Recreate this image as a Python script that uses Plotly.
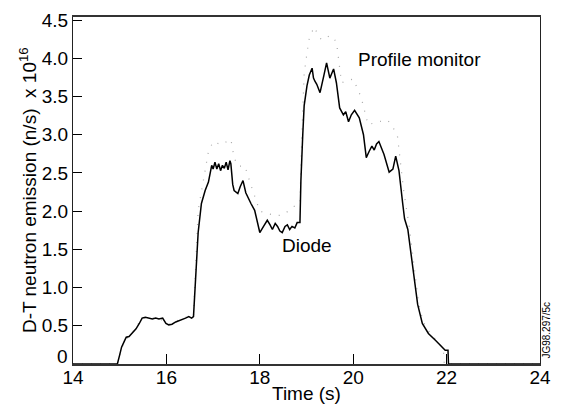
import plotly.graph_objects as go

# Diode (solid) trace
diode_t = [14.0, 14.95, 15.0, 15.04, 15.1, 15.14, 15.2, 15.27, 15.35, 15.42, 15.48, 15.55, 15.63, 15.7,
           15.77, 15.84, 15.92, 15.99, 16.05, 16.12, 16.2, 16.3, 16.41, 16.48, 16.54, 16.58, 16.62, 16.68,
           16.75, 16.83, 16.9, 16.94, 16.97, 17.0, 17.04, 17.08, 17.12, 17.16, 17.2, 17.24, 17.28, 17.32,
           17.36, 17.38, 17.42, 17.45, 17.5, 17.53, 17.58, 17.64, 17.7, 17.76, 17.81, 17.89, 17.95, 18.0,
           18.08, 18.16, 18.22, 18.27, 18.33, 18.38, 18.43, 18.48, 18.54, 18.59, 18.64, 18.69, 18.75, 18.8,
           18.86, 18.88, 18.92, 18.95, 19.01, 19.06, 19.12, 19.15, 19.18, 19.22, 19.29, 19.33, 19.37, 19.43,
           19.47, 19.5, 19.54, 19.58, 19.64, 19.71, 19.79, 19.84, 19.9, 19.96, 20.03, 20.13, 20.22, 20.28,
           20.34, 20.4, 20.45, 20.5, 20.55, 20.66, 20.77, 20.85, 20.91, 20.98, 21.06, 21.1, 21.17, 21.23,
           21.29, 21.38, 21.48, 21.61, 21.76, 21.9, 21.97, 22.03, 22.04, 24.0]
diode_y = [0, 0, 0.12, 0.22, 0.3, 0.35, 0.36, 0.41, 0.46, 0.53, 0.6, 0.61, 0.6, 0.59,
           0.6, 0.59, 0.6, 0.53, 0.51, 0.52, 0.55, 0.57, 0.6, 0.62, 0.6, 0.62, 1.1, 1.72,
           2.1, 2.27, 2.38, 2.53, 2.6, 2.55, 2.64, 2.55, 2.62, 2.53, 2.6, 2.56, 2.64, 2.54,
           2.66, 2.62, 2.35, 2.27, 2.24, 2.23, 2.32, 2.4, 2.24, 2.15, 2.1, 2.01, 1.85, 1.72,
           1.8, 1.88, 1.82, 1.76, 1.84, 1.8, 1.74, 1.72, 1.8, 1.82, 1.76, 1.8, 1.78, 1.85,
           1.85, 2.4, 3.0, 3.38, 3.64, 3.78, 3.87, 3.74, 3.7, 3.66, 3.55, 3.68, 3.77, 3.94,
           3.82, 3.74, 3.8, 3.86, 3.68, 3.35, 3.26, 3.3, 3.17, 3.26, 3.32, 3.22, 3.0, 2.7,
           2.78, 2.85, 2.8, 2.88, 2.91, 2.74, 2.51, 2.55, 2.72, 2.53, 2.1, 1.9, 1.76, 1.46,
           1.21, 0.78, 0.53, 0.4, 0.31, 0.22, 0.18, 0.18, 0, 0]

# Profile monitor (dotted) trace
prof_t = [14.0, 14.95, 15.0, 15.1, 15.27, 15.48, 15.84, 16.05, 16.41, 16.58, 16.68, 16.79, 16.9, 17.0,
          17.17, 17.38, 17.45, 17.53, 17.68, 17.8, 18.0, 18.33, 18.5, 18.73, 18.86, 18.9, 18.95, 19.05,
          19.16, 19.29, 19.37, 19.5, 19.64, 19.75, 20.0, 20.17, 20.32, 20.53, 20.74, 20.91, 20.95, 21.08,
          21.12, 21.2, 21.3, 21.4, 21.5, 21.65, 21.8, 21.93, 21.95, 24.0]
prof_y = [0, 0, 0.12, 0.3, 0.41, 0.6, 0.6, 0.52, 0.61, 0.63, 2.01, 2.42, 2.78, 2.91,
          2.87, 2.94, 2.7, 2.59, 2.59, 2.36, 2.0, 1.94, 1.95, 2.06, 2.1, 3.0, 3.8, 4.24,
          4.41, 4.26, 4.24, 4.3, 4.22, 3.68, 3.73, 3.49, 3.13, 3.17, 3.19, 3.04, 2.97, 2.27,
          2.1, 1.8, 1.3, 0.8, 0.55, 0.4, 0.3, 0.2, 0, 0]

x_ticks = [14, 16, 18, 20, 22, 24]
y_ticks = [0.5, 1.0, 1.5, 2.0, 2.5, 3.0, 3.5, 4.0, 4.5]
y_ticktext = ["0.5", "1.0", "1.5", "2.0", "2.5", "3.0", "3.5", "4.0", "4.5"]
y_zero_label = "0"

FONT = "Liberation Sans, Arial, sans-serif"

fig = go.Figure()
fig.add_trace(go.Scatter(x=prof_t, y=prof_y, mode="lines",
                         line=dict(color="#a8a8a8", width=1.2, dash="1px,8px"),
                         showlegend=False, hoverinfo="skip"))
fig.add_trace(go.Scatter(x=diode_t, y=diode_y, mode="lines",
                         line=dict(color="black", width=1.5),
                         showlegend=False))

PLOT_H = 354.0
PLOT_W = 473.0

fig.update_layout(
    width=561, height=407,
    margin=dict(l=73, r=15, t=10, b=43),
    paper_bgcolor="white", plot_bgcolor="white",
    font=dict(family=FONT, size=19, color="black"),
    xaxis=dict(range=[14, 24], tickvals=x_ticks, ticks="inside", ticklen=10, tickwidth=1,
               tickcolor="black", showgrid=False, zeroline=False, showline=True,
               linecolor="#333", linewidth=1.5, mirror=True, ticklabelstandoff=-5,
               tickfont=dict(size=19)),
    yaxis=dict(range=[0, 4.54], tickvals=y_ticks, ticktext=y_ticktext, ticks="inside",
               ticklen=9, tickwidth=1, tickcolor="black", showgrid=False, zeroline=False,
               showline=True, linecolor="#222", linewidth=1.2, mirror=True,
               tickfont=dict(size=19)),
    annotations=[
        dict(text="Time (s)", x=0.5, xref="paper", y=-(394 - 364) / PLOT_H, yref="paper",
             showarrow=False, xanchor="center", yanchor="middle", font=dict(size=19)),
        dict(text="D-T neutron emission (n/s)  x 10<sup>16</sup>", textangle=-90,
             x=(27 - 73) / PLOT_W, xref="paper", y=0.5, yref="paper", showarrow=False,
             xanchor="center", yanchor="middle", font=dict(size=19)),
        dict(text="Profile monitor", x=20.07, xref="x", y=(364 - 53) / 78, yref="y",
             showarrow=False, xanchor="left", yanchor="middle", font=dict(size=19)),
        dict(text="Diode", x=19.0, xref="x", y=(364 - 243) / 78, yref="y",
             showarrow=False, xanchor="center", yanchor="middle", font=dict(size=19)),
        dict(text="JG98.297/5c", textangle=-90, x=(553 - 73) / PLOT_W, xref="paper",
             y=(364 - 329) / PLOT_H, yref="paper", showarrow=False, font=dict(size=10),
             xanchor="center", yanchor="middle"),
        dict(text=y_zero_label, x=-(73 - 69) / PLOT_W, xref="paper", y=-4 / PLOT_H, yref="paper",
             showarrow=False, xanchor="right", yanchor="bottom", font=dict(size=19),
             borderpad=0),
    ],
)

fig.write_html("out.html", config={"displayModeBar": False},
               post_script="document.body.style.margin='0';document.body.style.overflow='hidden';")
